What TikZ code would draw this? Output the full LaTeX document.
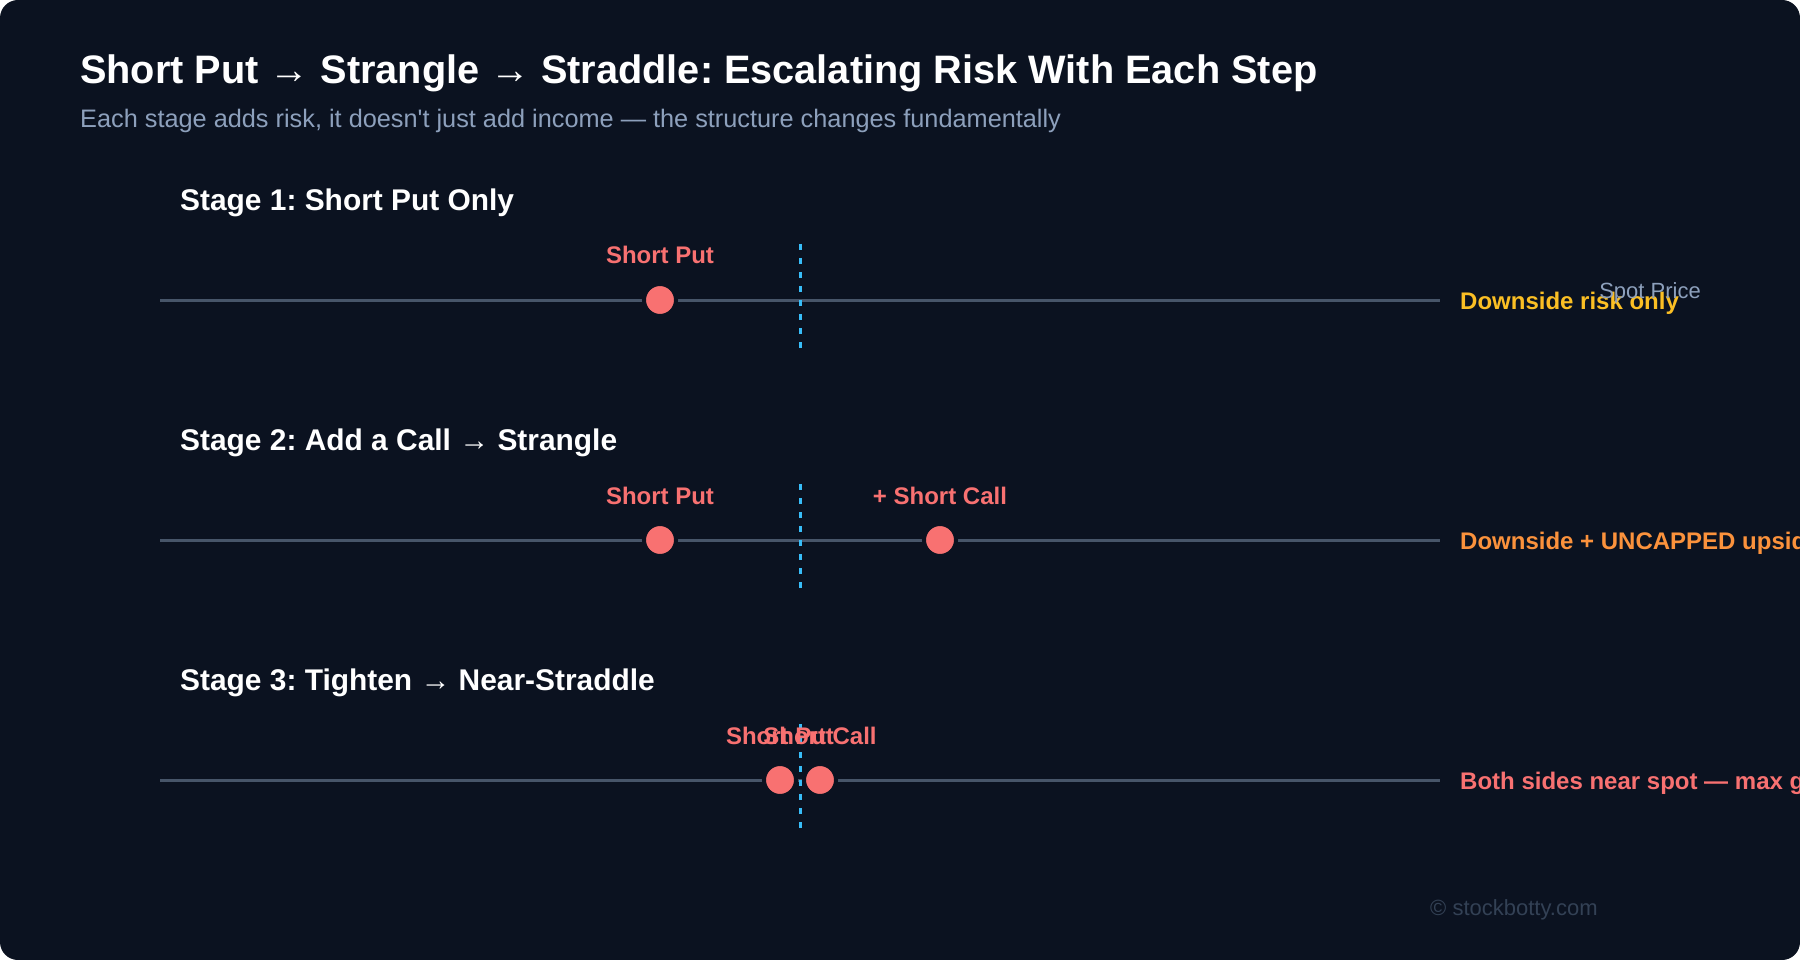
\documentclass[tikz,border=0pt]{standalone}
\usepackage{fontspec}
\setmainfont{Liberation Sans}
\usetikzlibrary{positioning}
\definecolor{bgdark}{HTML}{0B1220}
\definecolor{axisgrey}{HTML}{475569}
\definecolor{spotblue}{HTML}{38BDF8}
\definecolor{legred}{HTML}{F87171}
\definecolor{riskyellow}{HTML}{FBBF24}
\definecolor{riskorange}{HTML}{FB923C}
\definecolor{subgrey}{HTML}{8DA0BC}
\definecolor{markgrey}{HTML}{334155}
\newcommand{\thinarrow}{{\mdseries →}}
\frenchspacing

\begin{document}
\begin{tikzpicture}[x=1pt, y=-1pt,
		leg/.style={circle, fill=legred, draw=bgdark, line width=4pt, minimum size=32pt, inner sep=0pt},
		leglabel/.style={text=legred, inner sep=0pt, font=\fontsize{24}{28}\selectfont\bfseries},
		stagehead/.style={anchor=west, inner sep=0pt, text=white, font=\fontsize{29.9}{34}\selectfont\bfseries},
		risklabel/.style={anchor=west, inner sep=0pt, font=\fontsize{24}{28}\selectfont\bfseries},
		axisline/.style={draw=axisgrey, line width=3pt},
		spotline/.style={draw=spotblue, line width=3pt, dash pattern=on 6pt off 8pt}]
			\useasboundingbox (0, 0) rectangle (1800, 960);
			\fill[bgdark, rounded corners=18pt] (0, 0) rectangle (1800, 960);
			% title
			\node[anchor=base west, inner sep=0pt, text=white, font=\fontsize{39.7}{44}\selectfont\bfseries] (title) at (80, 84) {Short Put \thinarrow{} Strangle \thinarrow{} Straddle: Escalating Risk With Each Step};
			\node[anchor=base west, inner sep=0pt, text=subgrey, font=\fontsize{25.3}{30}\selectfont] (subtitle) at (80, 128) {Each stage adds risk, it doesn\textquotesingle t just add income — the structure changes fundamentally};
			% stage 1
			\node[stagehead] (head1) at (180, 203) {Stage 1: Short Put Only};
			\coordinate (a1w) at (160, 300);
			\coordinate (a1e) at (1440, 300);
			\coordinate (s1t) at (800, 244);
			\coordinate (s1b) at (800, 348);
			\draw[axisline] (a1w) -- (a1e);
			\draw[spotline] (s1t) -- (s1b);
			\node[leg] (put1) at (660, 300) {};
			\node[leglabel] (put1lab) at (660, 255) {Short Put};
			\node[risklabel, text=riskyellow] (risk1) at (1460, 303) {Downside risk only};
			\node[inner sep=0pt, text=subgrey, font=\fontsize{22}{26}\selectfont] (spotlab) at (1650, 293) {Spot Price};
			% stage 2
			\node[stagehead] (head2) at (180, 443) {Stage 2: Add a Call \thinarrow{} Strangle};
			\coordinate (a2w) at (160, 540);
			\coordinate (a2e) at (1440, 540);
			\coordinate (s2t) at (800, 484);
			\coordinate (s2b) at (800, 588);
			\draw[axisline] (a2w) -- (a2e);
			\draw[spotline] (s2t) -- (s2b);
			\node[leg] (put2) at (660, 540) {};
			\node[leg] (call2) at (940, 540) {};
			\node[leglabel] (put2lab) at (660, 496) {Short Put};
			\node[leglabel] (call2lab) at (940, 496) {+ Short Call};
			\node[risklabel, text=riskorange] (risk2) at (1460, 543) {Downside + UNCAPPED upside};
			% stage 3
			\node[stagehead] (head3) at (180, 683) {Stage 3: Tighten \thinarrow{} Near-Straddle};
			\coordinate (a3w) at (160, 780);
			\coordinate (a3e) at (1440, 780);
			\coordinate (s3t) at (800, 724);
			\coordinate (s3b) at (800, 828);
			\draw[axisline] (a3w) -- (a3e);
			\draw[spotline] (s3t) -- (s3b);
			\node[leg] (put3) at (780, 780) {};
			\node[leg] (call3) at (820, 780) {};
			\node[leglabel] (put3lab) at (780, 736) {Short Put};
			\node[leglabel] (call3lab) at (820, 736) {Short Call};
			\node[risklabel, text=legred] (risk3) at (1460, 783) {Both sides near spot — max gamma};
			% watermark
			\node[anchor=west, inner sep=0pt, text=markgrey, font=\fontsize{22}{26}\selectfont] (mark) at (1430, 910) {© stockbotty.com};
		\end{tikzpicture}
\end{document}
